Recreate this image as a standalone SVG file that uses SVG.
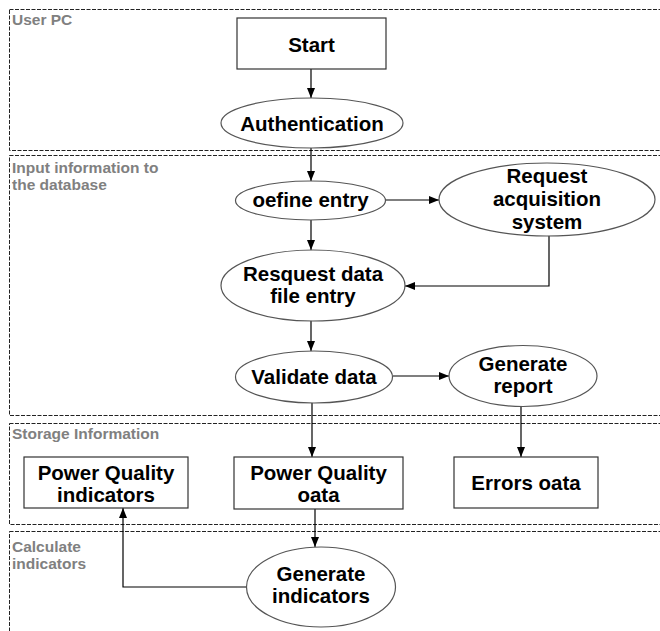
<svg xmlns="http://www.w3.org/2000/svg" width="660" height="631" viewBox="0 0 660 631">
<style>
.lane{fill:none;stroke:#222;stroke-width:1;stroke-dasharray:4,1.5}
.lbl{font-family:"Liberation Sans",Arial,sans-serif;font-weight:bold;font-size:15.5px;fill:#808080}
.box{fill:#fff;stroke:#333;stroke-width:1.2}
.ell{fill:#fff;stroke:#555;stroke-width:1.2}
.t{font-family:"Liberation Sans",Arial,sans-serif;font-weight:bold;font-size:20.5px;fill:#000;text-anchor:middle}
.c{fill:none;stroke:#000;stroke-width:1.2;marker-end:url(#ah)}
</style>
<defs>
<marker id="ah" markerWidth="10" markerHeight="8" refX="10" refY="4" orient="auto" markerUnits="userSpaceOnUse">
<path d="M0,0 L10,4 L0,8 z" fill="#000"/>
</marker>
</defs>
<rect width="660" height="631" fill="#fff"/>
<g id="lanes">
<rect class="lane" x="9.5" y="9.5" width="700" height="141"/>
<rect class="lane" x="9.5" y="155.5" width="700" height="260"/>
<rect class="lane" x="9.5" y="423.5" width="700" height="101"/>
<rect class="lane" x="9.5" y="531.5" width="700" height="120"/>
<text class="lbl" x="12" y="25">User PC</text>
<text class="lbl" x="12" y="173">Input information to</text>
<text class="lbl" x="12" y="190">the database</text>
<text class="lbl" x="12" y="439">Storage Information</text>
<text class="lbl" x="12" y="552">Calculate</text>
<text class="lbl" x="12" y="569">indicators</text>
</g>
<g id="connectors">
<path class="c" d="M311,69 V98"/>
<path class="c" d="M311,148 V181"/>
<path class="c" d="M385,200 H439"/>
<path class="c" d="M311,220 V250"/>
<path class="c" d="M549,236 V286 H405"/>
<path class="c" d="M311,321 V351"/>
<path class="c" d="M393,376 H449"/>
<path class="c" d="M312,403 V457"/>
<path class="c" d="M521,407 V457"/>
<path class="c" d="M315,509 V547"/>
<path class="c" d="M247,587 H123 V508"/>
</g>
<g id="start">
<rect class="box" x="237" y="18" width="149" height="51"/>
<text class="t" x="311.5" y="52">Start</text>
</g>
<g id="authentication">
<ellipse class="ell" cx="312" cy="123" rx="91" ry="25"/>
<text class="t" x="312" y="131">Authentication</text>
</g>
<g id="define-entry">
<ellipse class="ell" cx="310.5" cy="200.5" rx="75" ry="19.5"/>
<text class="t" x="310.5" y="207">oefine entry</text>
</g>
<g id="request-acquisition">
<ellipse class="ell" cx="547" cy="199.5" rx="108" ry="36.5"/>
<text class="t" x="547" y="183">Request</text>
<text class="t" x="547" y="206">acquisition</text>
<text class="t" x="547" y="229">system</text>
</g>
<g id="request-data">
<ellipse class="ell" cx="313" cy="285.5" rx="92" ry="35.5"/>
<text class="t" x="313" y="281">Resquest data</text>
<text class="t" x="313" y="303">file entry</text>
</g>
<g id="validate">
<ellipse class="ell" cx="314" cy="377" rx="78.5" ry="26"/>
<text class="t" x="314" y="384">Validate data</text>
</g>
<g id="generate-report">
<ellipse class="ell" cx="523" cy="376" rx="74" ry="30.5"/>
<text class="t" x="523" y="371">Generate</text>
<text class="t" x="523" y="393">report</text>
</g>
<g id="pq-indicators">
<rect class="box" x="24" y="457" width="164" height="51"/>
<text class="t" x="106" y="480">Power Quality</text>
<text class="t" x="106" y="502">indicators</text>
</g>
<g id="pq-data">
<rect class="box" x="234" y="457" width="169" height="52"/>
<text class="t" x="318.5" y="480">Power Quality</text>
<text class="t" x="318.5" y="502">oata</text>
</g>
<g id="errors-data">
<rect class="box" x="454" y="457" width="144" height="51"/>
<text class="t" x="526" y="490">Errors oata</text>
</g>
<g id="generate-indicators">
<ellipse class="ell" cx="321" cy="587" rx="74.5" ry="40"/>
<text class="t" x="321" y="581">Generate</text>
<text class="t" x="321" y="603">indicators</text>
</g>
</svg>
